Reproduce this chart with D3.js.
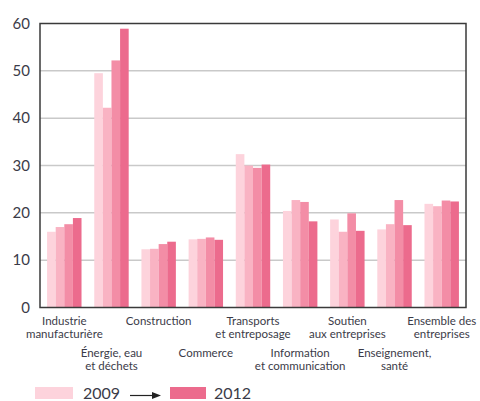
<!DOCTYPE html>
<html>
<head>
<meta charset="utf-8">
<script src="https://cdn.jsdelivr.net/npm/d3@7"></script>
<style>
  body { margin: 0; background: #fff; }
  text { font-family: Lato, "DejaVu Sans", sans-serif; fill: #3b3b48; }
</style>
</head>
<body>
<div id="chart"></div>
<script>
// categories (label lines) and yearly values
var categories = [
  ["Industrie", "manufacturière"],
  ["Énergie, eau", "et déchets"],
  ["Construction"],
  ["Commerce"],
  ["Transports", "et entreposage"],
  ["Information", "et communication"],
  ["Soutien", "aux entreprises"],
  ["Enseignement,", "santé"],
  ["Ensemble des", "entreprises"]
];
var years = ["2009", "2010", "2011", "2012"];
var v2009 = [16.0, 49.5, 12.3, 14.4, 32.4, 20.4, 18.6, 16.5, 21.9];
var v2010 = [17.0, 42.2, 12.4, 14.5, 30.0, 22.7, 16.0, 17.6, 21.4];
var v2011 = [17.6, 52.2, 13.4, 14.8, 29.5, 22.3, 19.9, 22.7, 22.6];
var v2012 = [18.9, 58.9, 13.9, 14.3, 30.2, 18.2, 16.2, 17.4, 22.4];
var yTicks = [0, 10, 20, 30, 40, 50, 60];

var series = [v2009, v2010, v2011, v2012];
var colors = ["#fdd3dc", "#f9b3c3", "#f38da6", "#ec6b8d"];

var width = 480, height = 401;
var margin = { top: 23.5, right: 14, bottom: 93.5, left: 40 };
var chartWidth = width - margin.left - margin.right;
var chartHeight = height - margin.top - margin.bottom;

var svg = d3.select("#chart").append("svg")
  .attr("width", width)
  .attr("height", height);

var chartGroup = svg.append("g")
  .attr("transform", `translate(${margin.left}, ${margin.top})`);

var x0 = d3.scaleBand()
  .domain(d3.range(categories.length))
  .range([0, chartWidth])
  .paddingInner(0.27)
  .paddingOuter(0.15);

var x1 = d3.scaleBand()
  .domain(d3.range(years.length))
  .range([0, x0.bandwidth()]);

var y = d3.scaleLinear()
  .domain([0, 60])
  .range([chartHeight, 0]);

// gridlines
chartGroup.append("g")
  .selectAll("line")
  .data(yTicks.slice(1, -1))
  .enter()
  .append("line")
  .attr("x1", 0)
  .attr("x2", chartWidth)
  .attr("y1", d => y(d))
  .attr("y2", d => y(d))
  .attr("stroke", "#c9c9c9")
  .attr("stroke-width", 1.5);

// bars
var groups = chartGroup.selectAll(".grp")
  .data(categories)
  .enter()
  .append("g")
  .attr("class", "grp")
  .attr("transform", (d, i) => `translate(${x0(i)},0)`);

groups.selectAll("rect")
  .data((d, i) => series.map((s, j) => ({ j: j, v: s[i] })))
  .enter()
  .append("rect")
  .attr("x", d => x1(d.j))
  .attr("width", x1.bandwidth())
  .attr("y", d => y(d.v))
  .attr("height", d => chartHeight - y(d.v))
  .attr("fill", d => colors[d.j]);

// frame
chartGroup.append("rect")
  .attr("x", 0)
  .attr("y", 0)
  .attr("width", chartWidth)
  .attr("height", chartHeight)
  .attr("fill", "none")
  .attr("stroke", "#3a3a3a")
  .attr("stroke-width", 1.5);

// y tick labels
var leftAxis = d3.axisLeft(y).tickValues(yTicks).tickSize(0).tickPadding(10);
var yAxis = chartGroup.append("g").call(leftAxis);
yAxis.select(".domain").remove();
yAxis.selectAll("text")
  .attr("font-size", "15px")
  .attr("font-family", "Lato, sans-serif")
  .style("fill", "#3b3b48");

// category labels, alternating rows (one text per line)
groups.each(function(d, i) {
  var row = i % 2;
  var g = d3.select(this);
  d.forEach((line, k) => {
    g.append("text")
      .attr("text-anchor", "middle")
      .attr("font-size", "11.5px")
      .attr("x", x0.bandwidth() / 2)
      .attr("y", chartHeight + 17 + row * 32 + k * 13.5)
      .text(line);
  });
});

// legend
var legend = svg.append("g").attr("transform", "translate(0, 387)");
legend.append("rect")
  .attr("x", 35).attr("y", 0).attr("width", 38).attr("height", 12)
  .attr("fill", colors[0]);
legend.append("text")
  .attr("x", 83).attr("y", 12)
  .attr("font-size", "16px")
  .text(years[0]);
legend.append("line")
  .attr("x1", 130).attr("x2", 156).attr("y1", 8.5).attr("y2", 8.5)
  .attr("stroke", "#222").attr("stroke-width", 1.2);
legend.append("path")
  .attr("d", "M152,5 L161,8.5 L152,12 Z")
  .attr("fill", "#222");
legend.append("rect")
  .attr("x", 170).attr("y", 0).attr("width", 36).attr("height", 12)
  .attr("fill", colors[3]);
legend.append("text")
  .attr("x", 214).attr("y", 12)
  .attr("font-size", "16px")
  .text(years[3]);
</script>
</body>
</html>
